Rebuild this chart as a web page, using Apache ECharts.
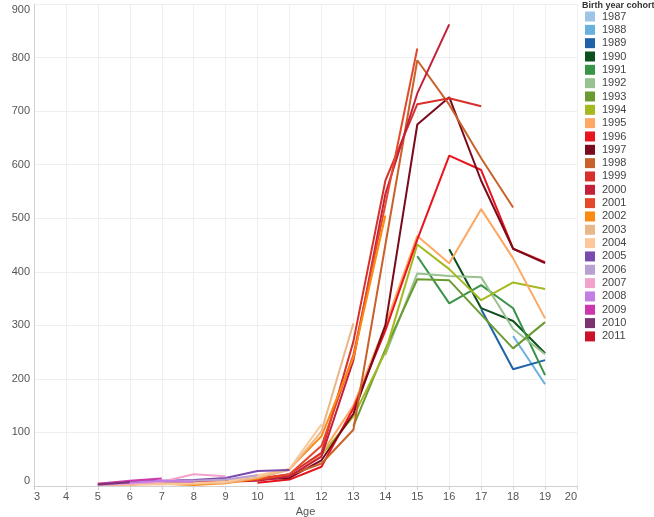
<!DOCTYPE html>
<html>
<head>
<meta charset="utf-8">
<script src="https://cdn.jsdelivr.net/npm/echarts@6/dist/echarts.min.js"></script>
<style>
html,body{margin:0;padding:0;background:#fff;}
#chart{width:654px;height:517px;}
</style>
</head>
<body>
<div id="chart"></div>
<script>
// Cohorts (birth years), their first observed age, and values by age
const cohorts = ['1987','1988','1989','1990','1991','1992','1993','1994','1995','1996','1997','1998','1999','2000','2001','2002','2003','2004','2005','2006','2007','2008','2009','2010','2011'];
const startAges = [19,18,17,16,15,14,13,12,11,10,9,8,7,6,5,5,5,5,5,5,5,5,5,5,5];
const v1987 = [195];
const v1988 = [280, 190];
const v1989 = [330, 218, 235];
const v1990 = [442, 332, 308, 248];
const v1991 = [429, 341, 375, 332, 207];
const v1992 = [245, 397, 392, 390, 293, 246];
const v1993 = [112, 255, 386, 384, 320, 257, 306];
const v1994 = [58, 130, 250, 451, 405, 347, 380, 368];
const v1995 = [15, 60, 150, 300, 467, 416, 517, 425, 313];
const v1996 = [6, 12, 36, 145, 290, 460, 617, 590, 443, 418];
const v1997 = [8, 12, 15, 48, 135, 300, 675, 726, 570, 443, 416];
const v1998 = [7, 9, 14, 20, 42, 105, 450, 795, 712, 612, 520];
const v1999 = [4, 6, 8, 14, 22, 62, 270, 570, 713, 724, 709];
const v2000 = [3, 6, 7, 8, 10, 18, 55, 235, 545, 733, 862];
const v2001 = [4, 5, 6, 6, 8, 12, 22, 75, 245, 525, 817];
const v2002 = [2, 3, 4, 2, 5, 14, 32, 93, 240, 505];
const v2003 = [3, 4, 5, 4, 6, 16, 30, 102, 304];
const v2004 = [2, 3, 3, 5, 8, 20, 32, 115];
const v2005 = [3, 8, 10, 11, 15, 28, 30];
const v2006 = [2, 5, 8, 10, 12, 20];
const v2007 = [2, 4, 8, 22, 18];
const v2008 = [3, 6, 10, 8];
const v2009 = [4, 10, 14];
const v2010 = [3, 7];
const v2011 = [5];
const cohortValues = [v1987,v1988,v1989,v1990,v1991,v1992,v1993,v1994,v1995,v1996,v1997,v1998,v1999,v2000,v2001,v2002,v2003,v2004,v2005,v2006,v2007,v2008,v2009,v2010,v2011];
const colors = ['#a0c4e8','#6ab0de','#1f62a8','#0d4f1e','#3a9447','#98c28f','#6a9b32','#a4b820','#fda864','#e8141e','#7a0a1c','#c9622a','#d7302c','#c4203c','#e4482a','#fb8a12','#e9b88a','#fcc899','#7b4aad','#b8a0d2','#f2a3cc','#c27ee2','#cc38ac','#7a3470','#cc1228'];

const series = cohorts.map((c, i) => ({
  name: c,
  type: 'line',
  data: cohortValues[i].map((v, k) => [startAges[i] + k, v]),
  showSymbol: false,
  symbol: 'none',
  lineStyle: { width: 2, color: colors[i] },
  itemStyle: { color: colors[i] },
  z: 2
}));

const FONT = 'Liberation Sans, Arial, sans-serif';
const chart = echarts.init(document.getElementById('chart'), null, { renderer: 'canvas' });
chart.setOption({
  animation: false,
  color: colors,
  title: {
    text: 'Birth year cohort',
    left: 582, top: 1, padding: 0,
    textStyle: { fontSize: 9, fontWeight: 'bold', color: '#333', fontFamily: FONT }
  },
  legend: {
    orient: 'vertical',
    left: 585, top: 11,
    icon: 'rect',
    itemWidth: 10, itemHeight: 10,
    itemGap: 2.33,
    padding: 0,
    data: cohorts,
    textStyle: { fontSize: 11, color: '#444', lineHeight: 10, padding: [0,0,0,2], fontFamily: FONT }
  },
  grid: { left: 34, right: 77, top: 4, bottom: 31, containLabel: false, outerBoundsMode: 'none' },
  xAxis: {
    type: 'value', min: 3, max: 20, interval: 1,
    name: 'Age', nameLocation: 'middle', nameGap: 20,
    nameTextStyle: { fontSize: 11, color: '#555', fontFamily: FONT },
    axisLine: { show: true, lineStyle: { color: '#d0d0d0' } },
    axisTick: { show: true, length: 4, lineStyle: { color: '#d0d0d0' } },
    axisLabel: { fontSize: 11, color: '#555', margin: 5, alignMinLabel: 'left', alignMaxLabel: 'right', fontFamily: FONT },
    splitLine: { show: true, lineStyle: { color: '#efefef' } }
  },
  yAxis: {
    type: 'value', min: 0, max: 900, interval: 100,
    name: 'Number of poisonings', nameLocation: 'middle', nameGap: 27, nameRotate: 90,
    nameTextStyle: { fontSize: 11, color: '#555', fontFamily: FONT },
    axisLine: { show: true, lineStyle: { color: '#d0d0d0' } },
    axisTick: { show: false },
    axisLabel: { fontSize: 11, color: '#555', margin: 4, verticalAlignMinLabel: 'bottom', verticalAlignMaxLabel: 'top', fontFamily: FONT },
    splitLine: { show: true, lineStyle: { color: '#efefef' } }
  },
  series: series
});
</script>
</body>
</html>
